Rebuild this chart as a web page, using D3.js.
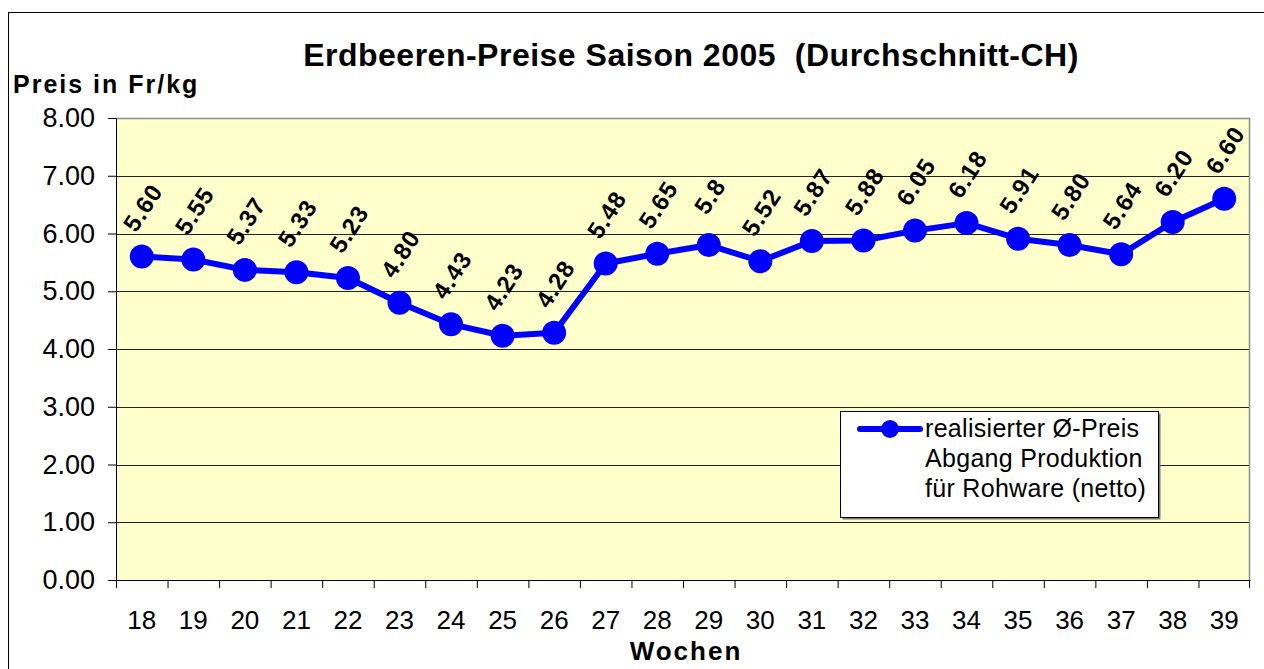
<!DOCTYPE html>
<head>
  <meta charset="utf-8">
  <script src="https://d3js.org/d3.v7.min.js"></script>
  <style>
    body { margin:0; background:#fff; }
    svg { display:block; font-family: "Liberation Sans", Arial, sans-serif; }
  </style>
</head>
<body>
<script>
  // data
  var weeks = ["18","19","20","21","22","23","24","25","26","27","28","29","30","31","32","33","34","35","36","37","38","39"];
  var prices = [5.60,5.55,5.37,5.33,5.23,4.80,4.43,4.23,4.28,5.48,5.65,5.8,5.52,5.87,5.88,6.05,6.18,5.91,5.80,5.64,6.20,6.60];
  var priceLabels = ["5.60","5.55","5.37","5.33","5.23","4.80","4.43","4.23","4.28","5.48","5.65","5.8","5.52","5.87","5.88","6.05","6.18","5.91","5.80","5.64","6.20","6.60"];
  var yTicks = [0,1,2,3,4,5,6,7,8];
  var legendLines = ["realisierter Ø-Preis","Abgang Produktion","für Rohware (netto)"];

  var W = 1264, H = 669;
  var margin = {top: 118, right: 14, bottom: 89, left: 116};
  var width = W - margin.left - margin.right,
      height = H - margin.top - margin.bottom;

  var svg = d3.select("body").append("svg")
    .attr("width", W)
    .attr("height", H);

  // outer chart frame
  svg.append("rect")
    .attr("x", 8.5).attr("y", 12.5)
    .attr("width", 1300).attr("height", 700)
    .attr("fill", "#fff").attr("stroke", "#000");

  var g = svg.append("g")
    .attr("transform", "translate(" + margin.left + "," + margin.top + ")");

  var x = d3.scaleBand().domain(weeks).range([0, width]).padding(0);
  var y = d3.scaleLinear().domain([0, 8]).range([height, 0]);

  // plot area
  g.append("rect")
    .attr("width", width).attr("height", height)
    .attr("fill", "#ffffcc");

  // gridlines
  g.selectAll(".grid").data(yTicks.filter(function(d){ return d > 0 && d < 8; }))
    .enter().append("line")
    .attr("x1", 0).attr("x2", width)
    .attr("y1", function(d){ return Math.round(y(d)) + 0.5; })
    .attr("y2", function(d){ return Math.round(y(d)) + 0.5; })
    .attr("stroke", "#222");

  // gray border top & right
  g.append("path")
    .attr("d", "M0,0.5H" + (width - 0.5) + "V" + height)
    .attr("fill", "none").attr("stroke", "#8c8c8c").attr("stroke-width", 1.5);

  // y axis
  var yAxis = d3.axisLeft(y)
    .tickValues(yTicks)
    .tickFormat(d3.format(".2f"))
    .tickSize(8)
    .tickPadding(13);
  var ya = g.append("g").call(yAxis);
  ya.selectAll("text").attr("font-size", 27).attr("fill", "#000").attr("font-family", "Liberation Sans, Arial, sans-serif");
  ya.selectAll("line, path").attr("stroke", "#000");

  // x axis (labels), ticks drawn on band edges
  var xAxis = d3.axisBottom(x).tickSizeInner(0).tickSizeOuter(0).tickPadding(31);
  var xa = g.append("g").attr("transform", "translate(0," + height + ")").call(xAxis);
  xa.selectAll("text").attr("font-size", 26).attr("fill", "#000").attr("font-family", "Liberation Sans, Arial, sans-serif");
  xa.select(".domain").attr("stroke", "#000");
  xa.selectAll(".edge").data(weeks.concat(["end"])).enter().append("line")
    .attr("class", "edge")
    .attr("x1", function(d){ return d === "end" ? width - 0.5 : x(d) + 0.5; })
    .attr("x2", function(d){ return d === "end" ? width - 0.5 : x(d) + 0.5; })
    .attr("y1", 0).attr("y2", 8)
    .attr("stroke", "#000");

  // line + markers
  var cx = function(i){ return x(weeks[i]) + x.bandwidth() / 2; };
  var line = d3.line()
    .x(function(d, i){ return cx(i); })
    .y(function(d){ return y(d); });

  g.append("path")
    .datum(prices)
    .attr("d", line)
    .attr("fill", "none")
    .attr("stroke", "#0000ff")
    .attr("stroke-width", 6)
    .attr("stroke-linejoin", "round");

  g.selectAll(".dot").data(prices).enter().append("circle")
    .attr("cx", function(d, i){ return cx(i); })
    .attr("cy", function(d){ return y(d); })
    .attr("r", 12)
    .attr("fill", "#0000ff");

  // data labels
  g.selectAll(".lbl").data(prices).enter().append("text")
    .attr("transform", function(d, i){
      return "translate(" + (cx(i) + 1) + "," + (y(d) - 49) + ") rotate(-57)";
    })
    .attr("text-anchor", "middle")
    .attr("dominant-baseline", "central")
    .attr("font-size", 24)
    .attr("font-weight", "bold")
    .attr("letter-spacing", 1)
    .text(function(d, i){ return priceLabels[i]; });

  // titles
  svg.append("text")
    .attr("x", 691).attr("y", 66)
    .attr("text-anchor", "middle")
    .attr("font-size", 32)
    .attr("font-weight", "bold")
    .attr("letter-spacing", 0.5)
    .style("white-space", "pre")
    .text("Erdbeeren-Preise Saison 2005  (Durchschnitt-CH)");

  svg.append("text")
    .attr("x", 13).attr("y", 93)
    .attr("font-size", 25)
    .attr("font-weight", "bold")
    .attr("letter-spacing", 2)
    .text("Preis in Fr/kg");

  svg.append("text")
    .attr("x", 686).attr("y", 660)
    .attr("text-anchor", "middle")
    .attr("font-size", 26)
    .attr("font-weight", "bold")
    .attr("letter-spacing", 2)
    .text("Wochen");

  // legend
  var lg = svg.append("g").attr("transform", "translate(840,411)");
  lg.append("rect")
    .attr("x", 2.5).attr("y", 2.5).attr("width", 318).attr("height", 106)
    .attr("fill", "#777");
  lg.append("rect")
    .attr("x", 0.5).attr("y", 0.5).attr("width", 318).attr("height", 106)
    .attr("fill", "#fff").attr("stroke", "#000");
  lg.append("line")
    .attr("x1", 20).attr("x2", 80).attr("y1", 18).attr("y2", 18)
    .attr("stroke", "#0000ff").attr("stroke-width", 6).attr("stroke-linecap", "round");
  lg.append("circle").attr("cx", 50).attr("cy", 18).attr("r", 9).attr("fill", "#0000ff");
  lg.selectAll(".lt").data(legendLines).enter().append("text")
    .attr("x", 85)
    .attr("y", function(d, i){ return 26 + i * 30; })
    .attr("font-size", 25)
    .attr("letter-spacing", 0.3)
    .text(function(d){ return d; });
</script>
</body>
